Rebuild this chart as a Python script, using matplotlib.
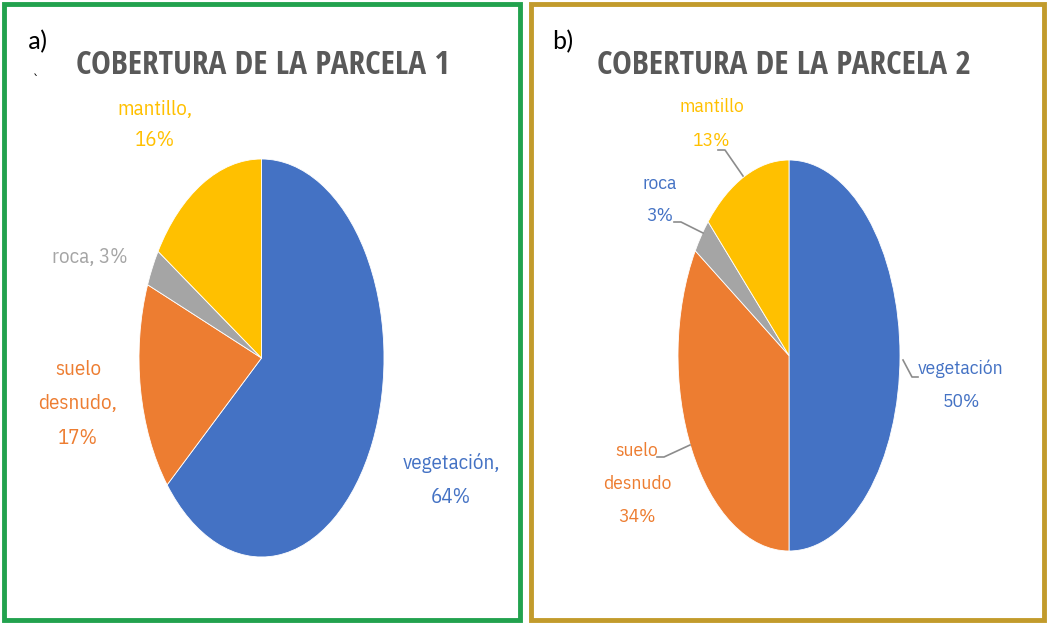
import matplotlib
matplotlib.use("Agg")
import matplotlib.pyplot as plt
from matplotlib.patches import Rectangle
from matplotlib.lines import Line2D

W, H = 1048, 624

# ---- data ----
categories = ["vegetación", "suelo desnudo", "roca", "mantillo"]
values_p1 = [64, 17, 3, 16]
values_p2 = [50, 34, 3, 13]
titles = ["COBERTURA DE LA PARCELA 1", "COBERTURA DE LA PARCELA 2"]
panel_tags = ["a)", "b)"]

colors = ["#4472C4", "#ED7D31", "#A5A5A5", "#FFC000"]
TITLE_FONT = ["Open Sans Condensed", "IBM Plex Sans Condensed", "DejaVu Sans"]
LABEL_FONT = ["IBM Plex Sans Condensed", "Open Sans Condensed", "DejaVu Sans"]
TAG_FONT = ["Carlito", "Open Sans", "DejaVu Sans"]

fig = plt.figure(figsize=(W / 100, H / 100), dpi=100)
fig.patch.set_facecolor("white")

def fx(x):
    return x / W

def fy(y):
    return 1 - y / H

# panel borders
fig.patches.append(Rectangle((fx(4), fy(620)), fx(516), 616 / H, transform=fig.transFigure,
                             fill=False, edgecolor="#22A24E", linewidth=3.5))
fig.patches.append(Rectangle((fx(531), fy(620)), fx(513), 616 / H, transform=fig.transFigure,
                             fill=False, edgecolor="#C29B2C", linewidth=3.5))

# pie bounding boxes in pixels (left, top, right, bottom)
boxes = [(139, 159, 384, 557), (678, 160, 900, 551)]

for box, vals in zip(boxes, [values_p1, values_p2]):
    l, t, r, b = box
    ax = fig.add_axes([fx(l), fy(b), (r - l) / W, (b - t) / H])
    ax.pie(vals, colors=colors, startangle=90, counterclock=False,
           wedgeprops=dict(linewidth=0.6, edgecolor="white"))
    ax.set_aspect("auto")
    ax.set_xlim(-1, 1)
    ax.set_ylim(-1, 1)
    ax.axis("off")

# titles and tags
title_pos = [(263, 66), (784, 66)]
for (x, y), ttl in zip(title_pos, titles):
    fig.text(fx(x), fy(y), ttl, ha="center", va="center", fontsize=24,
             fontweight="bold", color="#595959", family=TITLE_FONT)
tag_pos = [(28, 42), (552, 42)]
for (x, y), tg in zip(tag_pos, panel_tags):
    fig.text(fx(x), fy(y), tg, ha="left", va="center", fontsize=19,
             color="black", family=TAG_FONT)
fig.text(fx(33), fy(80), "`", ha="left", va="center", fontsize=9, color="black")

label_colors_p1 = [colors[0], colors[1], colors[2], colors[3]]
label_colors_p2 = [colors[0], colors[1], colors[0], colors[3]]

# panel 1 labels
p1_text = [
    f"{categories[0]},\n{values_p1[0]}%",
    "suelo\ndesnudo,\n" + f"{values_p1[1]}%",
    f"{categories[2]}, {values_p1[2]}%",
    f"{categories[3]},\n{values_p1[3]}%",
]
p1_pos = [(451, 480), (78, 404), (90, 258), (155, 125)]
p1_ls = [1.95, 2.05, 1.6, 1.75]
for txt, (x, y), c, ls in zip(p1_text, p1_pos, label_colors_p1, p1_ls):
    fig.text(fx(x), fy(y), txt, ha="center", va="center", fontsize=15,
             color=c, family=LABEL_FONT, linespacing=ls)

# panel 2 labels
p2_text = [
    f"{categories[0]}\n{values_p2[0]}%",
    "suelo\ndesnudo\n" + f"{values_p2[1]}%",
    f"{categories[2]}\n{values_p2[2]}%",
    f"{categories[3]}\n{values_p2[3]}%",
]
p2_pos = [(961, 385), (637, 484), (660, 200), (712, 124)]
p2_ls = [2.1, 2.1, 2.0, 2.2]
for txt, (x, y), c, ls in zip(p2_text, p2_pos, label_colors_p2, p2_ls):
    fig.text(fx(x), fy(y), txt, ha="center", va="center", fontsize=14,
             color=c, family=LABEL_FONT, linespacing=ls)

# leader lines (panel 2)
leaders = [
    [(903, 360), (912, 377), (918, 377)],
    [(657, 457), (664, 457), (690, 445)],
    [(674, 222), (681, 222), (703, 233)],
    [(718, 150), (725, 150), (743, 176)],
]
for pts in leaders:
    xs = [fx(p[0]) for p in pts]
    ys = [fy(p[1]) for p in pts]
    fig.add_artist(Line2D(xs, ys, transform=fig.transFigure, color="#8C8C8C", linewidth=1.2))

fig.savefig("out.png", dpi=100, facecolor="white")
